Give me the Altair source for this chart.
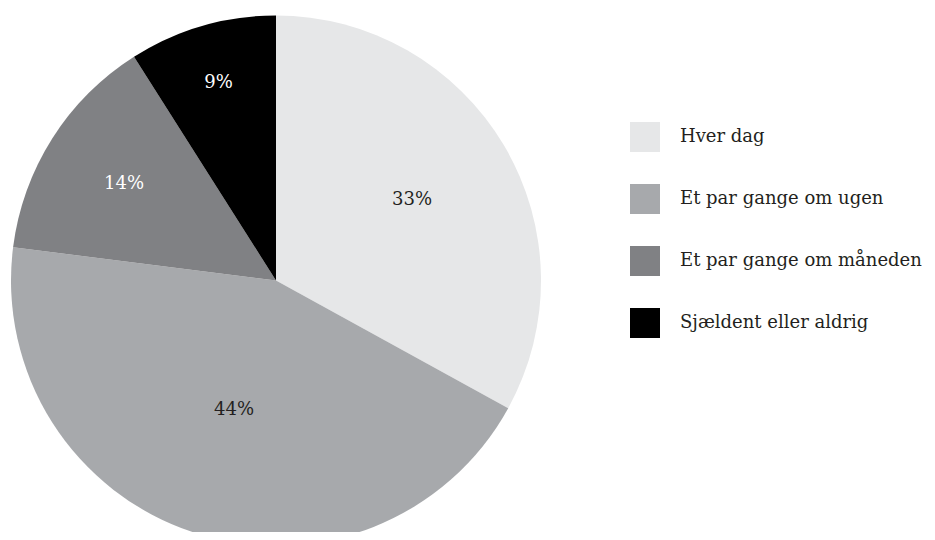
import altair as alt
import pandas as pd

categories = ["Hver dag", "Et par gange om ugen", "Et par gange om måneden", "Sjældent eller aldrig"]
values = [33, 44, 14, 9]
labels = ["33%", "44%", "14%", "9%"]
colors = ["#e6e7e8", "#a7a9ac", "#808184", "#000000"]
label_colors = ["#231f20", "#231f20", "#ffffff", "#ffffff"]

df = pd.DataFrame({
    "category": categories,
    "value": values,
    "label": labels,
    "order": list(range(len(categories))),
    "tcolor": label_colors,
})

cx, cy, R = 268, 272.5, 265
FONT = "DejaVu Serif"

base = alt.Chart(df).encode(
    theta=alt.Theta("value:Q", stack=True),
    order=alt.Order("order:Q"),
)

pie = base.mark_arc(outerRadius=R, stroke=None, strokeWidth=0).encode(
    x=alt.value(cx),
    y=alt.value(cy),
    color=alt.Color(
        "category:N",
        scale=alt.Scale(domain=categories, range=colors),
        sort=categories,
        legend=alt.Legend(
            title=None,
            orient="none",
            legendX=622,
            legendY=114,
            symbolType="square",
            symbolSize=900,
            symbolStrokeWidth=0,
            symbolOpacity=1,
            labelFont=FONT,
            labelFontSize=18,
            labelColor="#231f20",
            labelOffset=20,
            rowPadding=32,
            labelLimit=400,
        ),
    ),
)

text = base.mark_text(font=FONT, fontSize=18, align="center", baseline="middle").encode(
    x=alt.value(cx),
    y=alt.value(cy),
    radius=alt.Radius(
        "value:Q",
        scale=alt.Scale(type="linear", domain=[9, 14, 33, 44], range=[206, 180, 158, 136], zero=False),
    ),
    text="label:N",
    color=alt.Color("tcolor:N", scale=None),
)

chart = (pie + text).properties(
    width=919,
    height=524,
    autosize=alt.AutoSizeParams(type="none"),
    padding=0,
).configure_view(stroke=None)

chart.save("out.html", embed_options={"renderer": "svg", "actions": False})
